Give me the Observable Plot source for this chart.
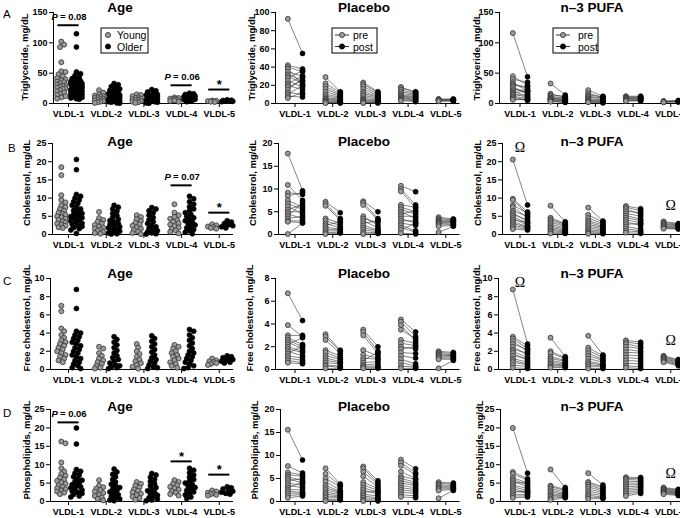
<!DOCTYPE html>
<html><head><meta charset="utf-8">
<script src="https://cdn.jsdelivr.net/npm/d3@7"></script>
<script src="https://cdn.jsdelivr.net/npm/@observablehq/plot@0.6"></script>
<style>
html,body{margin:0;padding:0;background:#fff;}
body{width:680px;height:518px;overflow:hidden;position:relative;font-family:"Liberation Sans",Arial,sans-serif;color:#000;}
.title{position:absolute;font-weight:bold;font-size:13.5px;transform:translate(-50%,-50%);white-space:nowrap;}
.letter{position:absolute;font-size:11.5px;}
.ylab{position:absolute;font-weight:bold;font-size:9.5px;white-space:nowrap;transform:translate(-50%,-50%) rotate(-90deg);line-height:1;}
svg{position:absolute;}
</style></head><body>
<script>
// ---------- categories & labels ----------
const fractions = ["VLDL-1","VLDL-2","VLDL-3","VLDL-4","VLDL-5"];
const panelTitles = ["Age","Placebo","n\u20133 PUFA"];
const yLabels = ["Triglyceride, mg/dL","Cholesterol, mg/dL","Free cholesterol, mg/dL","Phospholipids, mg/dL"];
const rowLetters = ["A","B","C","D"];
const yMax = [[150,100,150],[25,20,25],[10,8,10],[25,20,25]];
const yStep = [[50,20,50],[5,5,5],[2,2,2],[5,5,5]];

// ---------- A: Triglyceride ----------
const tgAgeYoung = [
 [102,97,93,68,53,52,48,45,42,40,38,36,35,33,31,30,29,28,26,25,24,22,20,18,16,14,12,10,8],
 [22,18,15,13,12,11,10,9,8,7,6,5,4,3,2,1],
 [15,14,12,10,9,8,7,6,5,4,3,2,1],
 [10,9,8,8,7,6,5,4,3],
 [5,4.5,4,3.5,3,2.5]];
const tgAgeOlder = [
 [115,93,52,49,46,43,41,39,37,36,35,34,33,32,31,30,29,28,27,26,25,24,23,22,21,20,20,19,18,17,16,15,14,13,12,11,10,9,8,7],
 [33,31,28,26,24,22,20,19,18,16,15,14,13,12,11,10,9,8,7,6,5,4,3,2,1,0.5],
 [23,21,19,17,15,14,13,12,11,10,9,8,7,6,5,4,3,2,1,0.5],
 [17,16,15,14,13,12,11,10,9,8,7,6,5,4,3],
 [6,5.5,5,4.5,4,3.5,3]];
const tgPlaPre = [
 [93,42,40,38,35,32,30,28,25,22,20,18,15,12,10,8,6],
 [29,22,19,16,13,10,8,6,5,4,3,2,1,0.5],
 [23,21,19,16,13,11,9,7,5,4,3,2,1,0.5],
 [18,17,15,13,11,9,8,7,6,5,4,3],
 [5,4.5,4,3.5,3,2.5]];
const tgPlaPost = [
 [55,38,35,20,30,25,22,36,18,30,15,25,28,10,20,7,12],
 [13,12,10,9,8,7,6,5,4,3,2,1.5,1,0.5],
 [13,12,10,9,8,7,6,5,4,3,2,1.5,1,0.5],
 [12,13,11,10,9,8,7,6,5,4,3,2],
 [5,4.5,4,3.5,3,2.5]];
const tgPufaPre = [
 [116,45,40,35,32,30,28,25,22,20,18,16,14,12,10,8,6],
 [33,16,14,12,10,9,8,7,6,5,4,3],
 [22,17,14,12,10,8,6,5,4,3,2],
 [12,11,10,9,8,7,6,5,4],
 [4,3.5,3,2.5,2]];
const tgPufaPost = [
 [44,30,35,20,25,28,15,18,22,12,20,10,14,8,6,5,7],
 [14,10,12,9,8,7,6,5,4,3,2,2],
 [12,10,11,9,8,6,5,4,3,2,1],
 [12,10,11,9,8,7,6,5,4],
 [5,4,3.5,3,2.5]];

// ---------- B: Cholesterol ----------
const chAgeYoung = [
 [18.5,16.3,10.8,9.5,8.8,8,7.5,7,6.5,6,5.7,5.4,5,4.7,4.3,4,3.6,3.3,3,2.7,2.4,2,1.8],
 [6.2,4.5,4,3.5,3,2.6,2.2,1.9,1.6,1.3,1,0.7,0.4,0.2],
 [5.3,4.8,4.2,3.7,3.2,2.8,2.4,2,1.6,1.2,0.8,0.4,0.1],
 [8.3,6,5.3,4.8,4.3,3.9,3.5,3.1,2.7,2.3,1.9,1.5,1.1,0.7,0.3],
 [2.8,2.5,2.2,2,1.8,1.6]];
const chAgeOlder = [
 [20.6,17.8,11,10.5,10,9.5,9,8.5,8,7.5,7,6.6,6.2,5.8,5.5,5.2,4.9,4.6,4.3,4,3.7,3.4,3.1,2.8,2.5,2.2,1.9,1.6,1.2,0.3],
 [8,7.5,7,6.4,5.8,5.2,4.7,4.2,3.8,3.4,3,2.7,2.4,2.1,1.8,1.5,1.2,0.9,0.6,0.4,0.2,0.1],
 [7.4,7,6.5,6,5.3,4.7,4,3.5,3,2.5,2.1,1.7,1.3,1,0.7,0.4,0.2,0.1],
 [10.5,9.8,9,8.3,7.6,7,6.5,6,5.5,5,4.6,4.2,3.8,3.4,3,2.6,2.2,1.8,1.4,1,0.6,0.2],
 [3.8,3.4,3,2.7,2.4,2.1,1.8]];
const chPlaPre = [
 [17.8,10.9,9.2,8.5,7.5,6.8,6.2,5.5,5,4.5,4,3.5,3,2.8,0.1],
 [7.2,6.8,6.3,3.5,3,2.4,2,1.6,1.2,0.8,0.4,0.1],
 [7.3,7,6.5,4,3.5,3,2.5,2,1.5,1,0.5,0.1],
 [10.7,10,9.5,6.5,6,5.5,5,4.5,4,3.5,3,2.5,2,1.5,1,0.3],
 [3.8,3.5,3.2,3,2.8,2.6,2.4,2.1,1.8,0.5]];
const chPlaPost = [
 [9.6,7.5,8.8,9.2,6,5.5,4.5,6.5,5,3.5,7,4,3,2.6,2.5],
 [4.8,3.5,3.2,2.5,2,1.5,2.8,1.2,1,0.8,0.5,0.3],
 [5,3.5,3.2,2,2.6,1.5,3,1,0.8,0.6,0.4,0.2],
 [9.4,6.5,5.8,6,5,4.5,3.5,5.2,4,2.5,3,2,0.8,0.5,2.5,0.1],
 [3.4,3.3,3.1,3,2.8,2.7,2.5,2.2,2,1.8]];
const chPufaPre = [
 [20.6,9.8,9.5,8,7.5,6.5,6,5.5,5,4.5,4,3.5,3,2.5,2,1.5],
 [7.9,4.6,4.2,3.8,3.3,2.8,2.3,1.9,1.5,1.1,0.7,0.3],
 [7.4,5.4,4.5,3.8,3.3,2.8,2.3,1.8,1.3,0.9,0.5,0.2],
 [7.8,7.5,7,6.4,5.8,5.2,4.6,4,3.4,2.8,2.2,1.6,1,0.5],
 [3.6,3.3,3,2.8,2.5,2.3,2,1.8,1.6]];
const chPufaPost = [
 [8.1,6.2,5.5,5.9,4.6,5,3.5,4,3,2.5,3.3,2.2,2,1.8,1.5,1.2],
 [3.5,3,2.8,2.5,2.2,1.8,1.5,1.2,0.9,0.7,0.5,0.3],
 [3.7,3.4,3,2.6,2.2,1.9,1.6,1.2,0.9,0.6,0.4,0.2],
 [7.1,6.5,5.5,6,5,4.2,3.8,3.2,2.5,3,1.5,1,0.7,0.3],
 [3,2.8,2.6,2.4,2.2,2,1.8,1.6,1.5]];

// ---------- C: Free cholesterol ----------
const fcAgeYoung = [
 [7,6.4,4.5,4.2,3.8,3.5,3.2,3,2.8,2.6,2.4,2.2,2,1.8,1.6,1.4,1.2,1,0.8],
 [2.5,2.3,1.8,1.5,1.2,1,0.8,0.6,0.4,0.2,0.1],
 [2.8,2.4,2,1.7,1.4,1.1,0.9,0.7,0.5,0.3,0.1],
 [2.7,2.5,2.3,2,1.8,1.6,1.4,1.2,1,0.8,0.6,0.4,0.2],
 [1.2,1,0.9,0.8,0.7,0.6,0.5]];
const fcAgeOlder = [
 [8.8,6.7,4.2,4,3.8,3.6,3.4,3.2,3,2.8,2.6,2.4,2.2,2,1.8,1.6,1.4,1.2,1,0.8,0.6,0.4,0.2,0.1],
 [3.6,3.3,3,2.7,2.4,2.1,1.8,1.5,1.3,1.1,0.9,0.7,0.5,0.4,0.3,0.2,0.1],
 [3.7,3.4,3.1,2.8,2.5,2.2,1.9,1.6,1.3,1.1,0.9,0.7,0.5,0.3,0.2,0.1],
 [4.4,4.2,3.8,3.5,3.2,2.9,2.6,2.3,2,1.8,1.6,1.4,1.2,1,0.8,0.6,0.4,0.2,0.1],
 [1.5,1.4,1.3,1.2,1.1,1,0.9,0.8,0.7]];
const fcPlaPre = [
 [6.7,3.9,3,2.8,2.6,2.4,2.2,2,1.8,1.6,1.4,1.2,1,0.8,0.6],
 [3.1,2.9,2.6,1.7,1.5,1.2,1,0.8,0.6,0.4,0.3,0.1],
 [3.5,3.3,3,1.7,1.3,1,0.8,0.6,0.4,0.3,0.2,0.1],
 [4.4,4.2,3.9,3.5,2.6,2.3,2,1.8,1.5,1.2,0.9,0.6,0.3,0.1],
 [1.6,1.5,1.4,1.3,1.2,1.1,1,0.9,0.1]];
const fcPlaPost = [
 [4.3,2.9,3,2.2,2,1.8,2.8,1.6,1.5,1.2,2.1,1,0.8,0.6,0.5],
 [1.7,1.6,1.4,1.2,1,0.9,0.7,0.6,0.5,0.3,0.2,0.1],
 [2,1.6,1.4,1.2,1,0.9,1.5,0.7,0.5,0.3,0.2,0.1],
 [3.3,2.9,2.5,2.7,2.3,2.1,1.8,2,1.4,1,0.5,0.3,0.2,0.1],
 [1.5,1.4,1.3,1.2,1.2,1.1,1,0.9,0.8]];
const fcPufaPre = [
 [8.8,3.6,3.4,3.1,2.8,2.5,2.2,2,1.8,1.5,1.2,1,0.8,0.5,0.2],
 [3.5,2,1.8,1.4,1.2,1,0.8,0.6,0.5,0.3,0.2],
 [3.7,2.4,2.1,1.8,1.5,1.2,0.9,0.7,0.5,0.3,0.1],
 [3.2,3,2.8,2.5,2.2,1.9,1.6,1.3,1,0.7,0.4,0.2],
 [1.5,1.4,1.3,1.2,1.1,1,0.9,0.8]];
const fcPufaPost = [
 [2.8,2.6,2.3,2,2.2,1.6,1.8,1.3,1,1.2,0.8,0.6,0.5,0.3,0.1],
 [1.4,1.3,1.2,1,0.9,0.7,0.6,0.5,0.4,0.3,0.2],
 [1.6,1.5,1.3,1.1,1,0.8,0.6,0.5,0.4,0.3,0.1],
 [3,2.8,2.5,2.3,2,1.8,1.5,1.2,0.9,0.6,0.3,0.1],
 [1.1,1,0.9,0.8,0.7,0.6,0.5,0.4]];

// ---------- D: Phospholipids ----------
const plAgeYoung = [
 [16.3,15.8,10.6,9,8.2,7.5,7,6.5,6,5.6,5.2,4.8,4.4,4,3.6,3.3,3,2.7,2.4,2],
 [5.8,4.3,3.9,3.5,3.1,2.7,2.3,1.9,1.5,1.1,0.7,0.3],
 [5.3,4.8,4.3,3.8,3.3,2.9,2.5,2.1,1.7,1.3,0.9,0.5],
 [5.8,5.3,4.8,4.4,4,3.6,3.2,2.8,2.4,2,1.6],
 [3,2.7,2.4,2.2,2,1.8,1.6]];
const plAgeOlder = [
 [20,15.6,8.7,8.2,7.7,7.2,6.7,6.2,5.8,5.4,5,4.6,4.3,4,3.7,3.4,3.1,2.8,2.5,2.2,1.9,1.5,1.2],
 [8.8,8,7.4,6.7,6,5.3,4.7,4.2,3.8,3.4,3,2.6,2.2,1.8,1.4,1,0.7,0.4,0.2],
 [7.6,7.2,6.6,6,5.4,4.8,4.3,3.8,3.3,2.9,2.5,2.1,1.7,1.3,1,0.7,0.4,0.2],
 [9,8.5,7.8,7.2,6.6,6,5.5,5,4.6,4.2,3.8,3.4,3,2.6,2.2,1.8,1.2,0.8],
 [4,3.7,3.4,3.1,2.8,2.5,2.2,2]];
const plPlaPre = [
 [15.6,7.7,6.3,5.8,5.4,5,4.5,4,3.5,3,2.6,2.2,1.8,1.3,0.8],
 [7.2,6,5,4.3,3.5,3,2.5,2,1.6,1.2,0.8,0.4,0.1],
 [7.6,7.2,6.5,5.5,4.2,3.6,3,2.5,2,1.6,1.2,0.8,0.4,0.1],
 [9.1,8.5,7.8,6.5,5.5,5,4.5,4,3.5,3,2.5,2,1.5,1],
 [4.2,3.9,3.6,3.3,3,2.7,2.4,0.7]];
const plPlaPost = [
 [9,6.2,5.8,5.5,4.5,4,5,3.5,3,4.2,2.5,2,1.8,1.5,1.2],
 [3.8,3.5,3.2,2.5,2.2,2,1.8,1.5,1.2,1,0.8,0.5,0.3],
 [4.5,4,3.6,3.2,2.8,2.4,2,1.6,2.2,1.2,0.8,0.6,0.3,0.1],
 [7.1,6.2,5.8,5,4.8,4.2,3.8,3.5,3,2.6,2.2,1.8,1.2,0.8],
 [4,3.8,3.5,3.3,3,2.8,2.6,2.4]];
const plPufaPre = [
 [20,8,7.5,6.5,6,5.5,5,4.5,4,3.5,3,2.5,2,1.5,1],
 [8.7,4.3,4,3.5,3,2.5,2,1.6,1.2,0.8,0.4],
 [7.7,5.3,5,4.5,4,3.4,2.8,2.2,1.7,1.2,0.7],
 [6.6,6.3,6,5.5,5,4.5,4,3.5,3,2.5,2,1.5],
 [3.8,3.6,3.4,3.2,3,2.8,2.6,2.4,2.2,2]];
const plPufaPost = [
 [7.7,6.2,5.8,5,4.5,4,5.2,3.5,3,2.5,2.2,2.8,1.8,1.5,1.2],
 [3.8,3.3,3,2.6,2.2,2,1.8,1.6,1.4,1.2,1],
 [4.5,4,3.6,3.2,2.8,2.4,2,1.6,1.2,1,0.8],
 [6.5,6.2,5.8,5.4,5,4.6,4.2,3.8,3.4,3,2.6,2.2],
 [3.3,3.1,2.9,2.7,2.5,2.3,2.2,2,1.8,1.6]];

// ---------- annotations (fraction index, value level, label) ----------
const ageSigFrac  = [[1,4,5],[4,5],[],[1,4,5]];
const ageSigLevel = [[129,30,23],[13.5,6],[],[21.5,10.9,7.3]];
const ageSigText  = [["P = 0.08","P = 0.06","*"],["P = 0.07","*"],[],["P = 0.06","*","*"]];
const omegaFrac  = [[],[1,5],[1,5],[5]];
const omegaLevel = [[],[23.9,8],[9.6,3.2],[7.6]];

// ---------- layout ----------
const ageData = [[tgAgeYoung,tgAgeOlder],[chAgeYoung,chAgeOlder],[fcAgeYoung,fcAgeOlder],[plAgeYoung,plAgeOlder]];
const plaData = [[tgPlaPre,tgPlaPost],[chPlaPre,chPlaPost],[fcPlaPre,fcPlaPost],[plPlaPre,plPlaPost]];
const pufaData = [[tgPufaPre,tgPufaPost],[chPufaPre,chPufaPost],[fcPufaPre,fcPufaPost],[plPufaPre,plPufaPost]];

const L = {
  S: 37.7,
  rows: [{top:12,zero:103,title:7,lab:57},{top:143,zero:234,title:141,lab:183},{top:278,zero:369,title:273,lab:318},{top:409,zero:501,title:406,lab:450}],
  c1: [68,294.5,519.5],
  titleX: [120,364,592],
  axisX: [[53,275,499],[52,278,502],[50,275,498],[50,280,500]],
  labelDx: [[-28,-23,-22],[-25,-25,-24],[-23,-25,-21],[-23,-25,-20]],
  letterPos: [[3,8],[8,142],[3,275],[3,407]]
};
const FONT = '"Liberation Sans", Arial, sans-serif';
const GREY = "#9a9a9a", EDGE = "#333";

// deterministic beeswarm: offsets computed from pixel positions to avoid overlap
function swarm(vals, ky, maxHalf) {
  const step = 1.4, minSep = 3.8;
  const placed = [];
  for (const v of vals.slice().sort((a,b)=>b-a)) {
    const py = v*ky;
    let best = 0, bestD = -1;
    outer: for (let k=0; k*step<=maxHalf; k++) {
      for (const sgn of (k===0?[1]:[1,-1])) {
        const off = sgn*k*step;
        let minD = Infinity;
        for (const q of placed) minD = Math.min(minD, Math.hypot(q.off-off, q.py-py));
        if (minD >= minSep) { best = off; bestD = Infinity; break outer; }
        if (minD > bestD) { bestD = minD; best = off; }
      }
    }
    placed.push({off:best, py, v});
  }
  return placed;
}

function panel(ri, ci) {
  const g = L.rows[ri], S = L.S;
  const axisX = L.axisX[ri][ci], c1 = L.c1[ci];
  const ymax = yMax[ri][ci];
  const ml = 40, mt = 12, mb = 24, mr = 4;
  const xmin = 1 - (c1-axisX)/S, xmax = 5.35;
  const fw = (xmax-xmin)*S, fh = g.zero-g.top, ky = fh/ymax;
  const marks = [];
  if (ci === 0) {
    const [young, older] = ageData[ri];
    const yPts = [], oPts = [];
    fractions.forEach((f, fi) => {
      swarm(young[fi], ky, 5).forEach(p => yPts.push({x: fi+1-0.19+p.off/S, v: p.v}));
      swarm(older[fi], ky, 6).forEach(p => oPts.push({x: fi+1+0.21+p.off/S, v: p.v}));
    });
    marks.push(Plot.dot(yPts, {x:"x", y:"v", r:2.5, fill:GREY, stroke:EDGE, strokeWidth:0.8}));
    marks.push(Plot.dot(oPts, {x:"x", y:"v", r:2.5, fill:"#000", stroke:"#000", strokeWidth:0.6}));
    const sig = ageSigFrac[ri].map((f,i)=>({f, y:ageSigLevel[ri][i], t:ageSigText[ri][i]}));
    marks.push(Plot.ruleY(sig, {y:"y", x1:d=>d.f-0.28, x2:d=>d.f+0.28, stroke:"#000", strokeWidth:2}));
    const pl = sig.filter(d=>d.t.startsWith("P"));
    const st = sig.filter(d=>d.t==="*");
    marks.push(Plot.text(pl, {x:"f", y:"y", text:()=>"P", fontStyle:"italic", textAnchor:"start", dx:-17, dy:-8, fontSize:9.5, fontWeight:"bold"}));
    marks.push(Plot.text(pl, {x:"f", y:"y", text:d=>d.t.slice(1).trim(), textAnchor:"start", dx:-8.5, dy:-8, fontSize:9.5, fontWeight:"bold"}));
    marks.push(Plot.text(st, {x:"f", y:"y", text:"t", dy:-4.5, fontSize:13, fontWeight:"bold"}));
  } else {
    const [pre, post] = (ci===1 ? plaData : pufaData)[ri];
    const pairs = [];
    fractions.forEach((f, fi) => pre[fi].forEach((a,i)=>pairs.push({f:fi+1, a, b:post[fi][i]})));
    marks.push(Plot.link(pairs, {x1:d=>d.f-0.19, y1:"a", x2:d=>d.f+0.2, y2:"b", stroke:"#333", strokeWidth:0.6}));
    marks.push(Plot.dot(pairs, {x:d=>d.f-0.19, y:"a", r:2.5, fill:GREY, stroke:EDGE, strokeWidth:0.8}));
    marks.push(Plot.dot(pairs, {x:d=>d.f+0.2, y:"b", r:2.5, fill:"#000", stroke:"#000", strokeWidth:0.6}));
    if (ci === 2) {
      const om = omegaFrac[ri].map((f,i)=>({f, y:omegaLevel[ri][i]}));
      marks.push(Plot.text(om, {x:"f", y:"y", text:()=>"\u03A9", fontSize:14, fontWeight:"normal", fontFamily:'"Liberation Serif", "DejaVu Serif", serif'}));
    }
  }
  const svg = Plot.plot({
    width: ml+fw+mr, height: mt+fh+mb,
    marginLeft: ml, marginRight: mr, marginTop: mt, marginBottom: mb,
    x: {domain:[xmin,xmax], ticks:[1,2,3,4,5], tickFormat:d=>fractions[d-1], tickSize:4, tickPadding:3, line:true, label:null},
    y: {domain:[0,ymax], ticks:d3.range(0, ymax+0.001, yStep[ri][ci]), tickSize:4, tickPadding:2, line:true, label:null},
    style: {fontFamily:FONT, fontSize:"9px", fontWeight:"bold", background:"transparent", overflow:"visible", color:"#000"},
    marks
  });
  svg.style.position = "absolute";
  svg.style.left = (axisX-ml)+"px";
  svg.style.top = (g.top-mt)+"px";
  svg.style.maxWidth = "none";
  document.body.appendChild(svg);
  // rotated axis title
  const lab = document.createElement("div");
  lab.className = "ylab"; lab.textContent = yLabels[ri];
  lab.style.left = (axisX + L.labelDx[ri][ci])+"px";
  lab.style.top = g.lab+"px";
  document.body.appendChild(lab);
}

function legend(x, y, w, h, items, lined, circX, textX) {
  const ns = "http://www.w3.org/2000/svg";
  const s = document.createElementNS(ns, "svg");
  s.setAttribute("width", w+2); s.setAttribute("height", h+2);
  s.style.left = (x-1)+"px"; s.style.top = (y-1)+"px"; s.style.overflow = "visible";
  const add = (tag, attrs, txt) => { const e = document.createElementNS(ns, tag); for (const k in attrs) e.setAttribute(k, attrs[k]); if (txt) e.textContent = txt; s.appendChild(e); return e; };
  add("rect", {x:1, y:1, width:w, height:h, fill:"#fff", stroke:"#000", "stroke-width":1});
  items.forEach((it, i) => {
    const cy = 1 + 7 + i*11.5;
    if (lined) add("line", {x1:1+circX-7, x2:1+circX+7, y1:cy, y2:cy, stroke:"#333", "stroke-width":1});
    add("circle", {cx:1+circX, cy, r:2.6, fill:it.fill, stroke:it.stroke, "stroke-width":0.8});
    add("text", {x:1+textX, y:cy, "dominant-baseline":"central", "font-family":FONT, "font-size":"10.5px"}, it.label);
  });
  document.body.appendChild(s);
}

for (let ri=0; ri<4; ri++) for (let ci=0; ci<3; ci++) panel(ri, ci);

L.rows.forEach((g, ri) => {
  panelTitles.forEach((t, ci) => {
    const d = document.createElement("div");
    d.className = "title"; d.textContent = t;
    d.style.left = L.titleX[ci]+"px"; d.style.top = g.title+"px";
    document.body.appendChild(d);
  });
  const l = document.createElement("div");
  l.className = "letter"; l.textContent = rowLetters[ri];
  l.style.left = L.letterPos[ri][0]+"px"; l.style.top = L.letterPos[ri][1]+"px";
  document.body.appendChild(l);
});

legend(101, 28, 47, 25, [{label:"Young", fill:GREY, stroke:EDGE},{label:"Older", fill:"#000", stroke:"#000"}], false, 7, 16);
legend(332, 28, 45, 25, [{label:"pre", fill:GREY, stroke:EDGE},{label:"post", fill:"#000", stroke:"#000"}], true, 10, 21);
legend(553, 28, 45, 25, [{label:"pre", fill:GREY, stroke:EDGE},{label:"post", fill:"#000", stroke:"#000"}], true, 10, 25);
</script>
</body></html>
